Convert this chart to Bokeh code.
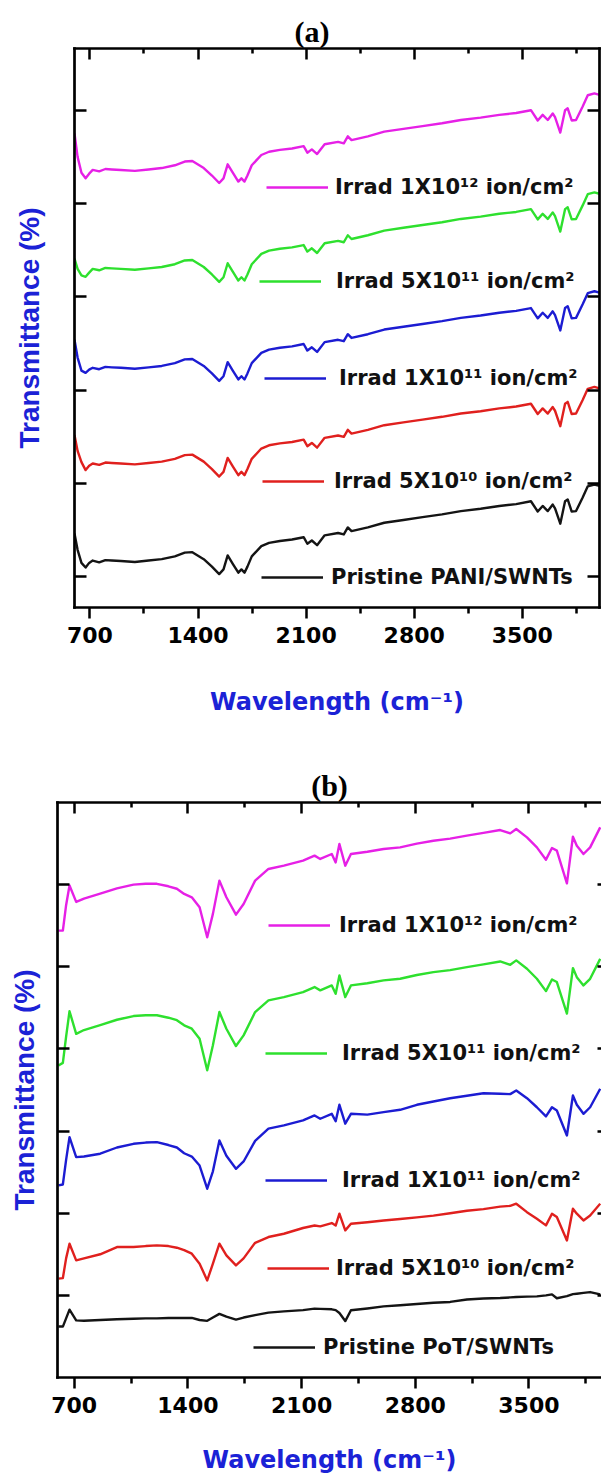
from bokeh.plotting import figure
from bokeh.models import Range1d, FixedTicker, LinearAxis, Legend, LegendItem, Title
from bokeh.core.properties import value
from bokeh.embed import file_html
from bokeh.resources import INLINE

# ---------------- data: panel (a) PANI/SWNTs ----------------
WN_A = [600, 620, 645, 672, 695, 718, 760, 800, 842, 900, 991, 1080, 1165, 1250, 1314, 1363,
        1437, 1490, 1537, 1565, 1592, 1625, 1661, 1681, 1701, 1720, 1748, 1810, 1860, 1930, 2009,
        2084, 2108, 2137, 2171, 2220, 2307, 2344, 2370, 2394, 2500, 2606, 2730, 2854, 2980, 3102,
        3230, 3351, 3460, 3556, 3600, 3632, 3665, 3697, 3712, 3746, 3777, 3794, 3820, 3848, 3891,
        3924, 3967, 4000]
A_1E12 = [47.5, 45.0, 43.3, 42.7, 43.2, 43.6, 43.45, 43.7, 43.65, 43.6, 43.5, 43.65, 43.8, 44.1,
          44.5, 44.55, 43.8, 43.0, 42.2, 42.7, 44.2, 43.3, 42.35, 42.7, 42.35, 43.0, 44.1, 45.2,
          45.55, 45.75, 45.9, 46.15, 45.45, 45.8, 45.3, 46.35, 46.6, 46.45, 47.2, 46.8, 47.2,
          47.7, 48.0, 48.3, 48.6, 48.95, 49.2, 49.5, 49.7, 50.0, 48.9, 49.5, 48.95, 49.65, 49.25,
          47.6, 50.0, 50.2, 48.9, 48.95, 50.4, 51.6, 51.8, 51.65]
A_5E11 = [34.1, 33.0, 32.3, 32.15, 32.6, 33.0, 32.85, 33.1, 33.05, 33.0, 32.9, 33.05, 33.2, 33.5,
          33.9, 33.95, 33.2, 32.4, 31.6, 32.1, 33.6, 32.7, 31.75, 32.1, 31.75, 32.4, 33.5, 34.6,
          34.95, 35.15, 35.3, 35.55, 34.85, 35.2, 34.7, 35.75, 36.0, 35.85, 36.6, 36.2, 36.6,
          37.1, 37.4, 37.7, 38.0, 38.35, 38.6, 38.9, 39.1, 39.4, 38.3, 38.9, 38.35, 39.05, 38.65,
          37.0, 39.4, 39.6, 38.3, 38.35, 39.8, 41.0, 41.2, 41.05]
A_1E11 = [25.4, 23.5, 22.1, 21.86, 22.2, 22.4, 22.25, 22.5, 22.45, 22.4, 22.3, 22.45, 22.6, 22.9,
          23.3, 23.35, 22.6, 21.8, 21.0, 21.5, 23.0, 22.1, 21.15, 21.5, 21.15, 21.8, 22.9, 24.0,
          24.35, 24.55, 24.7, 24.95, 24.25, 24.6, 24.1, 25.15, 25.4, 25.25, 26.0, 25.6, 26.0,
          26.5, 26.8, 27.1, 27.4, 27.75, 28.0, 28.3, 28.5, 28.8, 27.7, 28.3, 27.75, 28.45, 28.05,
          26.4, 28.8, 29.0, 27.7, 27.75, 29.2, 30.4, 30.6, 30.45]
A_5E10 = [15.2, 13.5, 12.3, 11.44, 11.9, 12.15, 12.0, 12.25, 12.2, 12.15, 12.05, 12.2, 12.35, 12.65,
          13.05, 13.1, 12.35, 11.55, 10.75, 11.25, 12.75, 11.85, 10.9, 11.25, 10.9, 11.55, 12.65,
          13.75, 14.1, 14.3, 14.45, 14.7, 14.0, 14.35, 13.85, 14.9, 15.15, 15.0, 15.75, 15.35,
          15.75, 16.25, 16.55, 16.85, 17.15, 17.5, 17.75, 18.05, 18.25, 18.55, 17.45, 18.05,
          17.5, 18.2, 17.8, 16.15, 18.55, 18.75, 17.45, 17.5, 18.95, 20.15, 20.35, 20.2]
A_PRISTINE = [4.65, 2.9, 1.5, 1.0, 1.5, 1.75, 1.55, 1.8, 1.75, 1.7, 1.6, 1.75, 1.9, 2.2, 2.6, 2.65,
              1.9, 1.1, 0.3, 0.8, 2.3, 1.4, 0.45, 0.8, 0.45, 1.1, 2.2, 3.3, 3.65, 3.85, 4.0,
              4.25, 3.55, 3.9, 3.4, 4.45, 4.7, 4.55, 5.3, 4.9, 5.3, 5.8, 6.1, 6.4, 6.7, 7.05,
              7.3, 7.6, 7.8, 8.1, 7.0, 7.6, 7.05, 7.75, 7.35, 5.7, 8.1, 8.3, 7.0, 7.05, 8.5,
              9.7, 9.9, 9.75]

# ---------------- data: panel (b) PoT/SWNTs ----------------
WN_B = [603, 630, 650, 671, 712, 760, 860, 963, 1065, 1140, 1209, 1280, 1332, 1377, 1424, 1472,
        1519, 1554, 1594, 1637, 1696, 1743, 1814, 1896, 1991, 2109, 2180, 2215, 2286, 2310, 2333,
        2369, 2404, 2505, 2605, 2707, 2810, 2912, 3015, 3118, 3220, 3323, 3385, 3422, 3488, 3549,
        3605, 3642, 3672, 3734, 3771, 3795, 3836, 3877, 3939]
B_1E12 = [44.4, 44.4, 47.5, 49.9, 47.9, 48.3, 48.9, 49.55, 50.0, 50.1, 50.1, 49.8, 49.5, 48.87,
          48.46, 47.24, 43.59, 46.44, 50.49, 48.46, 46.35, 47.65, 50.49, 51.91, 52.31, 52.92,
          53.53, 53.13, 53.73, 52.71, 54.95, 52.31, 53.73, 54.0, 54.34, 54.54, 55.0, 55.35,
          55.6, 55.96, 56.3, 56.65, 56.24, 56.78, 55.76, 54.54, 53.04, 54.46, 54.14, 50.16,
          55.84, 54.74, 53.73, 54.54, 56.97]
B_5E11 = [27.98, 28.3, 31.5, 34.59, 31.84, 32.3, 32.9, 33.55, 34.0, 34.1, 34.1, 33.8, 33.5, 32.87,
          32.46, 31.24, 27.4, 30.44, 34.49, 32.46, 30.35, 31.65, 34.49, 35.91, 36.31, 36.92,
          37.53, 37.13, 37.73, 36.71, 38.95, 36.31, 37.73, 38.0, 38.34, 38.54, 39.0, 39.35,
          39.6, 39.96, 40.3, 40.65, 40.24, 40.78, 39.76, 38.54, 37.04, 38.46, 38.14, 34.3,
          39.84, 38.74, 37.73, 38.54, 40.97]
B_1E11 = [13.38, 13.5, 16.5, 19.26, 16.83, 16.9, 17.24, 18.0, 18.45, 18.6, 18.65, 18.3, 18.0, 17.3,
          16.9, 15.8, 12.98, 15.1, 18.86, 17.0, 15.41, 16.3, 18.8, 20.3, 20.7, 21.3, 21.9, 21.5,
          22.1, 21.2, 23.2, 20.9, 22.1, 22.0, 22.3, 22.59, 23.2, 23.6, 24.0, 24.3, 24.6, 24.54,
          24.5, 24.94, 24.0, 22.9, 21.78, 22.9, 22.5, 19.46, 24.33, 23.2, 22.1, 22.9, 25.15]
B_5E10 = [2.03, 2.1, 4.5, 6.29, 4.26, 4.5, 5.0, 5.88, 5.88, 6.0, 6.08, 6.0, 5.8, 5.5, 5.07, 3.86,
          1.82, 3.86, 6.29, 4.87, 3.65, 4.5, 6.4, 7.1, 7.5, 8.2, 8.5, 8.4, 8.8, 8.5, 9.94, 7.91,
          8.72, 8.9, 9.12, 9.3, 9.5, 9.7, 10.0, 10.3, 10.5, 10.8, 10.9, 11.16, 10.13, 9.33, 8.52,
          9.94, 9.53, 6.69, 10.55, 9.94, 9.12, 9.73, 11.16]
B_PRISTINE = [-3.8, -3.8, -2.8, -1.74, -3.04, -3.1, -3.0, -2.9, -2.85, -2.8, -2.8, -2.75, -2.75,
              -2.75, -2.75, -3.0, -3.1, -2.7, -2.25, -2.6, -2.95, -2.7, -2.4, -2.1, -1.95, -1.8,
              -1.62, -1.65, -1.7, -1.8, -2.15, -3.13, -1.82, -1.6, -1.34, -1.2, -1.05, -0.9, -0.8,
              -0.5, -0.38, -0.33, -0.25, -0.2, -0.15, -0.12, 0.0, 0.12, -0.35, -0.1, 0.15, 0.2,
              0.3, 0.4, 0.12]

LABELS_A = ["Irrad 1X10¹² ion/cm²", "Irrad 5X10¹¹ ion/cm²", "Irrad 1X10¹¹ ion/cm²",
            "Irrad 5X10¹⁰ ion/cm²", "Pristine PANI/SWNTs"]
LABELS_B = ["Irrad 1X10¹² ion/cm²", "Irrad 5X10¹¹ ion/cm²", "Irrad 1X10¹¹ ion/cm²",
            "Irrad 5X10¹⁰ ion/cm²", "Pristine PoT/SWNTs"]
COLORS = ["#e620e6", "#2ee02e", "#1c1cd2", "#e0201e", "#141414"]

X_MAJOR = [700, 1400, 2100, 2800, 3500]
X_MINOR = [1050, 1750, 2450, 3150, 3850]
Y_TICKS = [0, 10, 20, 30, 40, 50]

BLUE = "#1b22d6"
FRAME_W = 2.7


def hide_labels(ax, ticks):
    ax.major_label_overrides = {t: "" for t in ticks}
    ax.major_label_text_font_size = "1px"
    ax.major_label_standoff = 0


def frame_line(ax, on):
    if on:
        ax.axis_line_color = "black"
        ax.axis_line_width = FRAME_W
        ax.axis_line_cap = "square"
    else:
        ax.axis_line_color = None


def make_panel(tag, title_align, title_offset, height, borders, xr, yr, wn, series, labels,
               legend_pos, xlab_standoff, ylab_standoff, right_border, right_tick):
    bl, br, bt, bb = borders
    p = figure(width=601, height=height, output_backend="svg", toolbar_location=None,
               x_range=Range1d(*xr), y_range=Range1d(*yr),
               min_border_left=bl, min_border_right=br, min_border_top=bt, min_border_bottom=bb,
               background_fill_color="white", border_fill_color="white")
    p.grid.visible = False
    p.outline_line_color = None

    p.title = Title(text=tag, align=title_align, offset=title_offset,
                    text_font="Liberation Serif", text_font_size="30px",
                    text_font_style="bold", text_color="black", standoff=2)

    xt = FixedTicker(ticks=X_MAJOR, minor_ticks=X_MINOR)
    yt = FixedTicker(ticks=Y_TICKS, minor_ticks=[])

    bx = p.xaxis[0]
    bx.ticker = xt
    frame_line(bx, True)
    bx.major_tick_in = 0
    bx.major_tick_out = 11
    bx.minor_tick_in = 0
    bx.minor_tick_out = 6
    bx.major_tick_line_width = 2.5
    bx.minor_tick_line_width = 2.5
    bx.major_label_text_font = "DejaVu Sans"
    bx.major_label_text_font_style = "bold"
    bx.major_label_text_font_size = "22px"
    bx.major_label_text_color = "black"
    bx.major_label_standoff = 8
    bx.axis_label = "Wavelength (cm⁻¹)"
    bx.axis_label_text_font = "DejaVu Sans"
    bx.axis_label_text_font_style = "bold"
    bx.axis_label_text_font_size = "24px"
    bx.axis_label_text_color = BLUE
    bx.axis_label_standoff = xlab_standoff

    ly = p.yaxis[0]
    ly.ticker = yt
    frame_line(ly, True)
    ly.major_tick_in = 12
    ly.major_tick_out = 0
    ly.major_tick_line_width = 2.5
    hide_labels(ly, Y_TICKS)
    ly.axis_label = "Transmittance (%)"
    ly.axis_label_text_font = "Liberation Sans"
    ly.axis_label_text_font_style = "bold"
    ly.axis_label_text_font_size = "28px"
    ly.axis_label_text_color = BLUE
    ly.axis_label_standoff = ylab_standoff

    tx = LinearAxis(ticker=xt, major_tick_in=11, major_tick_out=0,
                    minor_tick_in=5, minor_tick_out=0, major_tick_line_width=2.5,
                    minor_tick_line_width=2.5)
    frame_line(tx, True)
    hide_labels(tx, X_MAJOR)
    p.add_layout(tx, "above")

    ry = LinearAxis(ticker=yt, major_tick_in=right_tick, major_tick_out=0,
                    major_tick_line_width=2.5)
    frame_line(ry, right_border)
    hide_labels(ry, Y_TICKS)
    p.add_layout(ry, "right")

    for vals, col, lab, (lx, lyy, st) in zip(series, COLORS, labels, legend_pos):
        r = p.line(wn, vals, line_color=col, line_width=2.4, line_join="round")
        lg = Legend(items=[LegendItem(label=value(lab), renderers=[r])], location=(lx, lyy),
                    orientation="vertical", padding=0, margin=0, spacing=0,
                    border_line_color=None, background_fill_alpha=0,
                    glyph_width=62, glyph_height=20, label_height=20, label_standoff=st,
                    label_text_font="DejaVu Sans", label_text_font_size="21px",
                    label_text_font_style="bold", label_text_color="#111111")
        p.add_layout(lg)
    return p


pa = make_panel("(a)", "left", 220, 760, (74, 2, 48, 153), (600, 4000), (-3.28, 56.61),
                WN_A, [A_1E12, A_5E11, A_1E11, A_5E10, A_PRISTINE], LABELS_A,
                [(192, 408, 7), (185, 314, 15), (190, 217, 13), (188, 114, 10), (187, 18, 8)],
                42, 30, True, 12)
pb = make_panel("(b)", "center", 0, 720, (57, 0, 42, 103), (597, 3947), (-10, 60),
                WN_B, [B_1E12, B_5E11, B_1E11, B_5E10, B_PRISTINE], LABELS_B,
                [(211, 440, 9), (208, 312, 15), (208, 185, 15), (210, 97, 7), (196, 18, 8)],
                30, 18, False, 4)

open("out.html", "w").write(file_html([pa, pb], INLINE))
